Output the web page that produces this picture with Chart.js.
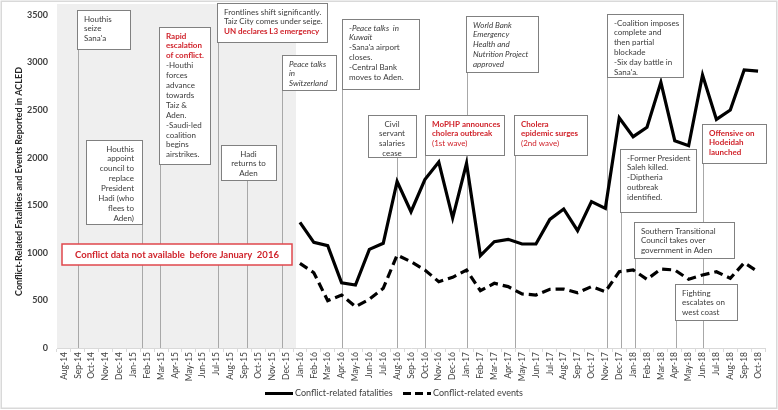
<!DOCTYPE html>
<html>
<head>
<meta charset="utf-8">
<script src="https://cdn.jsdelivr.net/npm/chart.js@4.4.0/dist/chart.umd.min.js"></script>
<style>
  html, body { margin: 0; padding: 0; background: #fff; }
  #wrap { width: 778px; height: 410px; }
</style>
</head>
<body>
<div id="wrap"><canvas id="chart" width="778" height="410"></canvas></div>
<script>
// months on the x axis (tick labels)
const months = [
  'Aug-14', 'Sep-14', 'Oct-14', 'Nov-14', 'Dec-14', 'Jan-15', 'Feb-15', 'Mar-15', 'Apr-15', 'May-15',
  'Jun-15', 'Jul-15', 'Aug-15', 'Sep-15', 'Oct-15', 'Nov-15', 'Dec-15', 'Jan-16', 'Feb-16', 'Mar-16',
  'Apr-16', 'May-16', 'Jun-16', 'Jul-16', 'Aug-16', 'Sep-16', 'Oct-16', 'Nov-16', 'Dec-16', 'Jan-17',
  'Feb-17', 'Mar-17', 'Apr-17', 'May-17', 'Jun-17', 'Jul-17', 'Aug-17', 'Sep-17', 'Oct-17', 'Nov-17',
  'Dec-17', 'Jan-18', 'Feb-18', 'Mar-18', 'Apr-18', 'May-18', 'Jun-18', 'Jul-18', 'Aug-18', 'Sep-18',
  'Oct-18'
];

// ACLED data starts in Jan-16
const firstDataMonth = 'Jan-16';
const fatalities = [
  1320, 1110, 1075, 686, 662, 1037, 1100, 1750, 1432, 1770, 1955, 1366,
  1940, 970, 1117, 1142, 1093, 1093, 1352, 1461, 1233, 1538, 1468, 2420,
  2221, 2320, 2792, 2179, 2126, 2869, 2403, 2501, 2922, 2911
];
const conflictEvents = [
  890, 791, 497, 557, 434, 512, 627, 977, 907, 820, 697, 743,
  820, 602, 680, 645, 568, 557, 617, 620, 581, 645, 592, 802,
  820, 722, 830, 820, 722, 767, 802, 732, 896, 802
];
const yMax = 3500;
const yStep = 500;

const seriesNames = ['Conflict-related fatalities', 'Conflict-related events'];
const yTitle = 'Conflict-Related Fatalities and Events Reported in ACLED';
const noDataText = 'Conflict data not available  before January  2016';

// pad the series so they line up with the month labels
const lead = months.indexOf(firstDataMonth);
const pad = arr => Array(lead).fill(null).concat(arr);

// timeline notes: n = normal, i = italic, b = red bold, r = red
const notes = [
  { at: 'Sep-14', dx: 0, box: [77, 10, 53, 39], align: 'left',
    lines: [[['n', 'Houthis']], [['n', 'seize']], [['n', "Sana'a"]]] },
  { at: 'Feb-15', dx: -0.38, box: [86, 140, 56, 84], align: 'right',
    lines: [[['n', 'Houthis']], [['n', 'appoint']], [['n', 'council to']], [['n', 'replace']],
            [['n', 'President']], [['n', 'Hadi (who']], [['n', 'flees to']], [['n', 'Aden)']]] },
  { at: 'Mar-15', dx: -0.1, box: [159, 27, 51, 137], align: 'left',
    lines: [[['b', 'Rapid']], [['b', 'escalation']], [['b', 'of conflict.']], [['n', '-Houthi']],
            [['n', 'forces']], [['n', 'advance']], [['n', 'towards']], [['n', 'Taiz &']], [['n', 'Aden.']],
            [['n', '-Saudi-led']], [['n', 'coalition']], [['n', 'begins']], [['n', 'airstrikes.']]] },
  { at: 'Jul-15', dx: 0.1, box: [217, 3, 110, 39], align: 'left',
    lines: [[['n', 'Frontlines shift significantly.']], [['n', 'Taiz City comes under seige.']],
            [['b', 'UN declares L3 emergency']]] },
  { at: 'Sep-15', dx: 0.19, box: [221, 145, 55, 35], align: 'center',
    lines: [[['n', 'Hadi']], [['n', 'returns to']], [['n', 'Aden']]] },
  { at: 'Dec-15', dx: -0.29, box: [282, 55, 54, 35], align: 'left',
    lines: [[['i', 'Peace talks']], [['i', 'in']], [['i', 'Switzerland']]] },
  { at: 'Apr-16', dx: 0, box: [342, 19, 77, 70], align: 'left',
    lines: [[['n', '-'], ['i', 'Peace talks  in']], [['i', 'Kuwait']], [['n', "-Sana'a airport"]],
            [['n', 'closes.']], [['n', '-Central Bank']], [['n', 'moves to Aden.']]] },
  { at: 'Aug-16', dx: 0, box: [368, 115, 48, 42], align: 'center',
    lines: [[['n', 'Civil']], [['n', 'servant']], [['n', 'salaries']], [['n', 'cease']]] },
  { at: 'Oct-16', dx: 0, box: [425, 115, 79, 40], align: 'left',
    lines: [[['b', 'MoPHP announces']], [['b', 'cholera outbreak']], [['r', '(1st wave)']]] },
  { at: 'Jan-17', dx: 0, box: [466, 16, 72, 56], align: 'left',
    lines: [[['i', 'World Bank']], [['i', 'Emergency']], [['i', 'Health and']],
            [['i', 'Nutrition Project']], [['i', 'approved']]] },
  { at: 'Apr-17', dx: 0.5, box: [514, 115, 73, 40], align: 'left',
    lines: [[['b', 'Cholera']], [['b', 'epidemic surges']], [['r', '(2nd wave)']]] },
  { at: 'Nov-17', dx: 0.12, box: [607, 14, 76, 63], align: 'left',
    lines: [[['n', '-Coalition imposes']], [['n', 'complete and']], [['n', 'then partial']],
            [['n', 'blockade']], [['n', '-Six day battle in']], [['n', "Sana'a."]]] },
  { at: 'Dec-17', dx: 0.13, box: [620, 149, 76, 63], align: 'left',
    lines: [[['n', '-Former President']], [['n', 'Saleh killed.']], [['n', '-Diptheria']],
            [['n', 'outbreak']], [['n', 'identified.']]] },
  { at: 'Jan-18', dx: 0.14, box: [634, 222, 100, 36], align: 'left',
    lines: [[['n', 'Southern Transitional']], [['n', 'Council takes over']], [['n', 'government in Aden']]] },
  { at: 'Apr-18', dx: 0.1, box: [675, 284, 62, 36], align: 'left',
    lines: [[['n', 'Fighting']], [['n', 'escalates on']], [['n', 'west coast']]] },
  { at: 'Jun-18', dx: 0, box: [702, 124, 64, 39], align: 'left',
    lines: [[['b', 'Offensive on']], [['b', 'Hodeidah']], [['b', 'launched']]] }
];

const FAMILY = 'Lato, Carlito, "Liberation Sans", sans-serif';
const NOTE_SIZE = 8;
const RED = '#d0232b';
const INK = '#3a3a3a';

function noteFont(st) {
  if (st === 'b') return 'bold ' + NOTE_SIZE + 'px ' + FAMILY;
  if (st === 'i') return 'italic ' + NOTE_SIZE + 'px ' + FAMILY;
  return NOTE_SIZE + 'px ' + FAMILY;
}

function drawNote(ctx, n) {
  const [bx, by, bw, bh] = n.box;
  ctx.fillStyle = '#fff';
  ctx.fillRect(bx, by, bw, bh);
  ctx.strokeStyle = '#808080';
  ctx.lineWidth = 1;
  ctx.strokeRect(bx + 0.5, by + 0.5, bw, bh);
  ctx.textBaseline = 'middle';
  ctx.textAlign = 'left';
  n.lines.forEach((line, i) => {
    const cy = by + 9 + i * 9.9;
    const runs = line.map(([st, t]) => {
      ctx.font = noteFont(st);
      return { st, t, w: ctx.measureText(t).width };
    });
    const total = runs.reduce((s, r) => s + r.w, 0);
    let cx = bx + 7;
    if (n.align === 'center') cx = bx + bw / 2 - total / 2;
    if (n.align === 'right') cx = bx + bw - 8 - total;
    runs.forEach(r => {
      ctx.font = noteFont(r.st);
      ctx.fillStyle = (r.st === 'b' || r.st === 'r') ? RED : INK;
      ctx.fillText(r.t, cx, cy);
      cx += r.w;
    });
  });
}

const timelinePlugin = {
  id: 'timeline',
  beforeDraw(chart) {
    const { ctx, chartArea: a, scales: { x } } = chart;
    ctx.save();
    // grey block for the months without data
    const shadeEnd = x.getPixelForValue(lead - 1 + 0.72);
    ctx.fillStyle = '#efefef';
    ctx.fillRect(a.left, 4, shadeEnd - a.left, a.bottom - 4);
    // event marker lines
    ctx.strokeStyle = '#a8a8a8';
    ctx.lineWidth = 1;
    notes.forEach(n => {
      const px = Math.round(x.getPixelForValue(months.indexOf(n.at) + n.dx)) + 0.5;
      ctx.beginPath();
      ctx.moveTo(px, n.box[1] + n.box[3]);
      ctx.lineTo(px, a.bottom);
      ctx.stroke();
    });
    ctx.restore();
  },
  afterDatasetsDraw(chart) {
    const { ctx } = chart;
    ctx.save();
    notes.forEach(n => drawNote(ctx, n));

    // "no data" banner
    const bx = 62, by = 244, bw = 230, bh = 21;
    ctx.fillStyle = '#fff';
    ctx.fillRect(bx, by, bw, bh);
    ctx.strokeStyle = '#e0474c';
    ctx.lineWidth = 1.5;
    ctx.strokeRect(bx, by, bw, bh);
    ctx.font = 'bold 9.5px ' + FAMILY;
    ctx.fillStyle = RED;
    ctx.textAlign = 'center';
    ctx.textBaseline = 'middle';
    ctx.fillText(noDataText, bx + bw / 2, by + bh / 2 + 0.5);
    ctx.restore();
  },
  afterDraw(chart) {
    const { ctx } = chart;
    ctx.save();
    // legend
    ctx.strokeStyle = '#000';
    ctx.lineWidth = 3;
    ctx.beginPath();
    ctx.moveTo(265, 393.5); ctx.lineTo(293, 393.5);
    ctx.stroke();
    ctx.setLineDash([8, 4]);
    ctx.beginPath();
    ctx.moveTo(403, 393.5); ctx.lineTo(431, 393.5);
    ctx.stroke();
    ctx.setLineDash([]);
    ctx.font = '9px ' + FAMILY;
    ctx.fillStyle = '#404040';
    ctx.textAlign = 'left';
    ctx.textBaseline = 'middle';
    ctx.fillText(seriesNames[0], 295, 393.5);
    ctx.fillText(seriesNames[1], 433, 393.5);
    // outer frame
    ctx.strokeStyle = '#d9d9d9';
    ctx.lineWidth = 1.5;
    ctx.strokeRect(1.25, 1.25, 775.5, 407);
    ctx.restore();
  }
};

new Chart(document.getElementById('chart'), {
  type: 'line',
  data: {
    labels: months,
    datasets: [
      {
        label: seriesNames[0],
        data: pad(fatalities),
        borderColor: '#000',
        borderWidth: 3.2,
        pointRadius: 0,
        tension: 0,
        fill: false
      },
      {
        label: seriesNames[1],
        data: pad(conflictEvents),
        borderColor: '#000',
        borderWidth: 3.2,
        borderDash: [9, 5],
        pointRadius: 0,
        tension: 0,
        fill: false
      }
    ]
  },
  options: {
    responsive: false,
    animation: false,
    layout: { padding: { left: 0, right: 13, top: 15, bottom: 26 } },
    plugins: {
      legend: { display: false },
      tooltip: { enabled: false }
    },
    scales: {
      x: {
        offset: true,
        grid: { display: true, drawOnChartArea: false, drawTicks: true, tickLength: 4, color: '#d9d9d9', offset: true },
        border: { display: true, color: '#d9d9d9' },
        ticks: {
          autoSkip: false, maxRotation: 90, minRotation: 90, padding: 0,
          color: '#404040', font: { family: FAMILY, size: 8.5 }
        },
        afterFit(scale) { scale.height = 36; }
      },
      y: {
        min: 0,
        max: yMax,
        grid: { display: false, drawTicks: false },
        border: { display: false },
        ticks: {
          stepSize: yStep, padding: 9,
          callback: v => String(v),
          color: '#404040', font: { family: FAMILY, size: 9, weight: 'bold' }
        },
        title: {
          display: true,
          text: yTitle,
          color: '#262626',
          font: { family: FAMILY, size: 9, weight: 'bold' },
          padding: { top: 14, bottom: 0 }
        },
        afterFit(scale) { scale.width = 57; }
      }
    }
  },
  plugins: [timelinePlugin]
});
</script>
</body>
</html>
